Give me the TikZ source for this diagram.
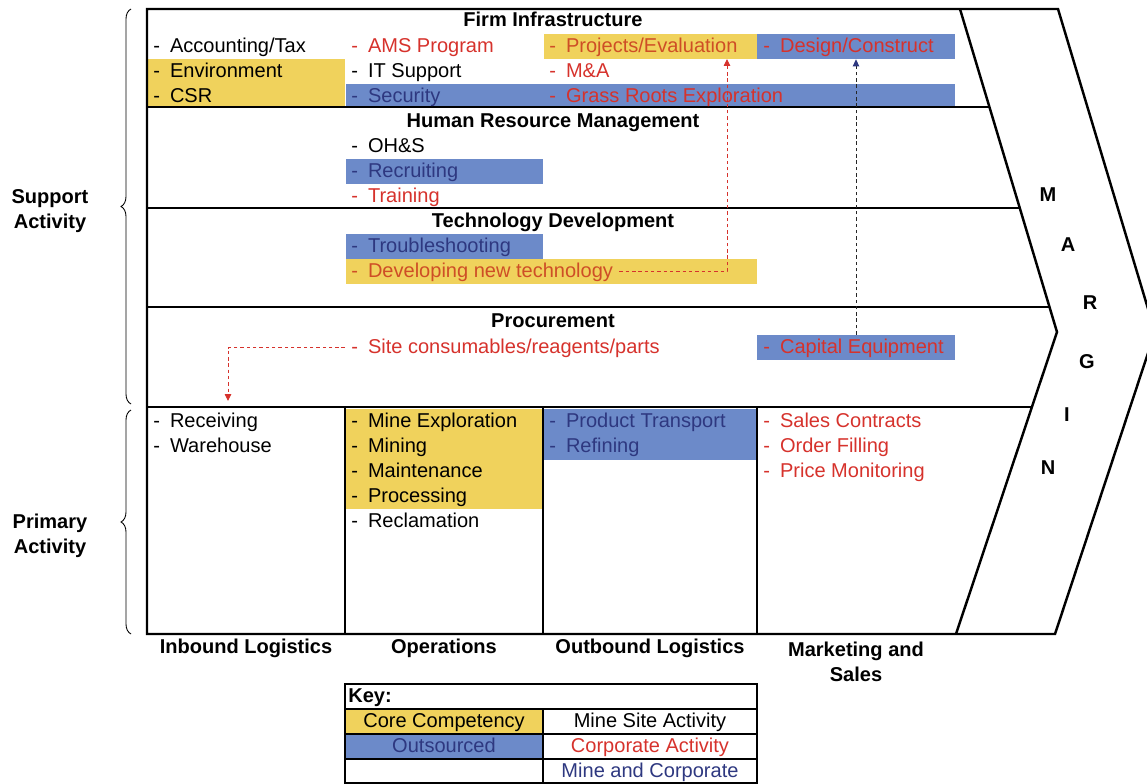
\documentclass[tikz,border=0pt]{standalone}
\usepackage{fontspec}
\setmainfont{Liberation Sans}
\usetikzlibrary{arrows.meta, fit, decorations.pathreplacing}

\definecolor{coreyel}{RGB}{240,210,92}
\definecolor{outblue}{RGB}{108,138,201}
\definecolor{corpred}{RGB}{214,50,44}
\definecolor{corporange}{RGB}{206,78,38}
\definecolor{mixnavy}{RGB}{46,56,128}

\newcommand{\itm}{-\hspace{0.5em}}

\begin{document}
\begin{tikzpicture}[
    x=0.02cm, y=-0.02cm,
    every node/.style={font=\fontsize{11.4}{14.2}\selectfont},
    frame/.style={line width=1.4pt},
    divider/.style={line width=0.9pt},
    band/.style={inner sep=0pt},
    item/.style={anchor=west, inner xsep=0.12cm, inner ysep=0pt, text height=0.9em, text depth=0.18em},
    heading/.style={font=\fontsize{11.4}{14.2}\selectfont\bfseries, text height=0.9em, text depth=0.18em, inner sep=0pt},
    sidelabel/.style={font=\fontsize{11.4}{14.2}\selectfont\bfseries, align=center},
    redlink/.style={draw=corpred, line width=0.5pt, dash pattern=on 2pt off 1.6pt, -{Triangle[length=1.4mm, width=1.3mm, color=corpred]}},
    darklink/.style={draw=black!85, line width=0.5pt, dash pattern=on 2pt off 1.6pt, -{Triangle[length=1.4mm, width=1.3mm, color=mixnavy]}},
    sidebrace/.style={decorate, decoration={brace, amplitude=0.2cm}, line width=0.5pt}
]
\useasboundingbox (0,0) rectangle (1147,784);
\clip (0,0) rectangle (1147,784);

% ============ SHADED BANDS ============
% firm infrastructure
\node[band, fill=coreyel, fit={(147,59) (345,107)}] (envband) {};
\node[band, fill=coreyel, fit={(544,34) (757,59)}] (projband) {};
\node[band, fill=outblue, fit={(757,34) (955,59)}] (designband) {};
\node[band, fill=outblue, fit={(346,84) (955,107)}] (secband) {};
% hr and technology
\node[band, fill=outblue, fit={(346,159) (543,184)}] (recband) {};
\node[band, fill=outblue, fit={(346,234) (543,259)}] (troubleband) {};
\node[band, fill=coreyel, fit={(346,259) (757,284)}] (devband) {};
% procurement
\node[band, fill=outblue, fit={(757,335) (955,360)}] (capband) {};
% primary activities
\node[band, fill=coreyel, fit={(346,409) (543,509)}] (opsband) {};
\node[band, fill=outblue, fit={(544,409) (757,460)}] (outband) {};

% ============ FRAME ============
\draw[frame] (147,9) -- (1058,9) -- (1155,332) -- (1055,634) -- (147,634) -- cycle;
\draw[frame] (960,9) -- (1057,332) -- (956,634);
\draw[divider] (147,107) -- (989,107);
\draw[divider] (147,208) -- (1020,208);
\draw[divider] (147,307) -- (1050,307);
\draw[divider] (147,407) -- (1032,407);
\foreach \x in {345,543,757}
    \draw[divider] (\x,407) -- (\x,634);

% ============ FIRM INFRASTRUCTURE ============
\node[heading] (firm) at (553,20) {Firm Infrastructure};
\node[item] (acct) at (147,46.5) {\itm Accounting/Tax};
\node[item] (env) at (147,71.5) {\itm Environment};
\node[item] (csr) at (147,96) {\itm CSR};
\node[item, corpred] (ams) at (345,46.5) {\itm AMS Program};
\node[item] (itsup) at (345,71.5) {\itm IT Support};
\node[item, mixnavy] (secur) at (345,96) {\itm Security};
\node[item, corporange] (proj) at (543,46.5) {\itm Projects/Evaluation};
\node[item, corpred] (mna) at (543,71.5) {\itm M\&A};
\node[item, corpred] (grass) at (543,96) {\itm Grass Roots Exploration};
\node[item, corpred] (design) at (757,46.5) {\itm Design/Construct};

% ============ HUMAN RESOURCES ============
\node[heading] (hrm) at (553,121) {Human Resource Management};
\node[item] (ohs) at (345,146.5) {\itm OH\&S};
\node[item, mixnavy] (recruit) at (345,171.5) {\itm Recruiting};
\node[item, corpred] (train) at (345,196.5) {\itm Training};

% ============ TECHNOLOGY ============
\node[heading] (tech) at (553,221) {Technology Development};
\node[item, mixnavy] (trouble) at (345,246.5) {\itm Troubleshooting};
\node[item, corporange] (devtech) at (345,271.5) {\itm Developing new technology};

% ============ PROCUREMENT ============
\node[heading] (proc) at (553,321) {Procurement};
\node[item, corpred] (sitecons) at (345,347.5) {\itm Site consumables/reagents/parts};
\node[item, corpred] (capeq) at (757,347.5) {\itm Capital Equipment};

% ============ PRIMARY ACTIVITIES ============
\node[item] (recv) at (147,421.5) {\itm Receiving};
\node[item] (ware) at (147,446.5) {\itm Warehouse};
\node[item] (mineexp) at (345,421.5) {\itm Mine Exploration};
\node[item] (mining) at (345,446.5) {\itm Mining};
\node[item] (maint) at (345,471.5) {\itm Maintenance};
\node[item] (procs) at (345,496.5) {\itm Processing};
\node[item] (reclam) at (345,521.5) {\itm Reclamation};
\node[item, mixnavy] (transp) at (543,421.5) {\itm Product Transport};
\node[item, mixnavy] (refin) at (543,446.5) {\itm Refining};
\node[item, corpred] (sales) at (757,421.5) {\itm Sales Contracts};
\node[item, corpred] (order) at (757,446.5) {\itm Order Filling};
\node[item, corpred] (price) at (757,471.5) {\itm Price Monitoring};

% column titles
\node[heading] (inbound) at (246,647) {Inbound Logistics};
\node[heading] (ops) at (444,647) {Operations};
\node[heading] (outbound) at (650,647) {Outbound Logistics};
\node[sidelabel] (market) at (856,662) {Marketing and\\Sales};

% margin letters
\node[heading] (mgM) at (1048,195) {M};
\node[heading] (mgA) at (1068,245) {A};
\node[heading] (mgR) at (1090,303) {R};
\node[heading] (mgG) at (1087,362) {G};
\node[heading] (mgI) at (1067,415) {I};
\node[heading] (mgN) at (1048,468) {N};

% ============ SIDE BRACES ============
\draw[sidebrace] (131,404) -- (131,9);
\draw[sidebrace] (131,634) -- (131,410);
\node[sidelabel] (support) at (50,211) {Support\\Activity};
\node[sidelabel] (primary) at (50,536) {Primary\\Activity};

% ============ LINKS ============
\coordinate (projin) at (727,59);
\coordinate (recvin) at (228,401);
\draw[redlink] (devtech.east) -| (projin);
\draw[darklink] (capband.north) -- (designband.south);
\draw[redlink] (sitecons.west) -| (recvin);

% ============ KEY ============
\node[band, fill=coreyel, fit={(345,709) (543,734)}] (keycore) {};
\node[band, fill=outblue, fit={(345,734) (543,759)}] (keyout) {};
\draw[divider] (345,684) rectangle (757,783);
\draw[divider] (345,709) -- (757,709);
\draw[divider] (345,734) -- (757,734);
\draw[divider] (345,759) -- (757,759);
\draw[divider] (543,709) -- (543,783);
\node[heading, anchor=west] (keytitle) at (348,696.5) {Key:};
\node[item, anchor=center] (kcore) at (444,721.5) {Core Competency};
\node[item, anchor=center, mixnavy] (kout) at (444,746.5) {Outsourced};
\node[item, anchor=center] (ksite) at (650,721.5) {Mine Site Activity};
\node[item, anchor=center, corpred] (kcorp) at (650,746.5) {Corporate Activity};
\node[item, anchor=center, mixnavy] (kmix) at (650,771) {Mine and Corporate};

\end{tikzpicture}
\end{document}
